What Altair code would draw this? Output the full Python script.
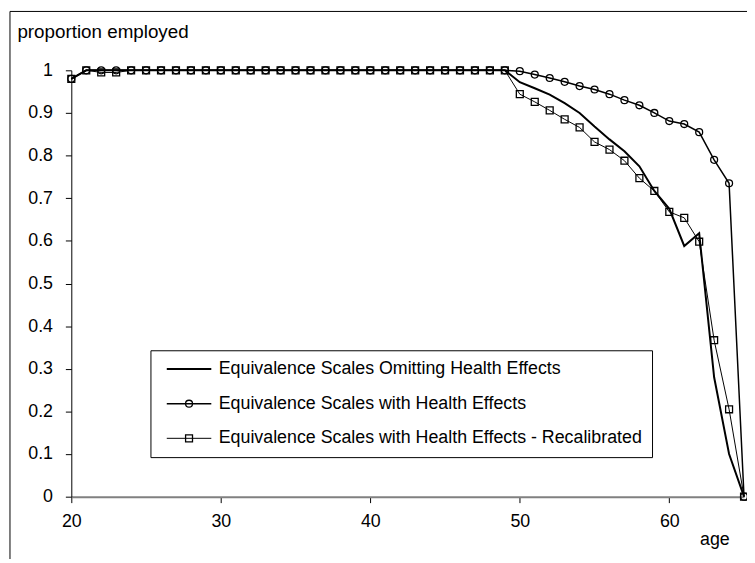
import altair as alt
import pandas as pd

ages = [20, 21, 22, 23, 24, 25, 26, 27, 28, 29, 30, 31, 32, 33, 34, 35,
        36, 37, 38, 39, 40, 41, 42, 43, 44, 45, 46, 47, 48, 49, 50, 51,
        52, 53, 54, 55, 56, 57, 58, 59, 60, 61, 62, 63, 64, 65]

series_names = [
    "Equivalence Scales Omitting Health Effects",
    "Equivalence Scales with Health Effects",
    "Equivalence Scales with Health Effects - Recalibrated",
]

omitting = [0.98, 1.0, 1.0, 1.0, 1.0, 1.0, 1.0, 1.0, 1.0, 1.0, 1.0, 1.0, 1.0, 1.0, 1.0, 1.0,
            1.0, 1.0, 1.0, 1.0, 1.0, 1.0, 1.0, 1.0, 1.0, 1.0, 1.0, 1.0, 1.0, 1.0,
            0.972, 0.958, 0.943, 0.923, 0.900, 0.868, 0.838, 0.810, 0.775, 0.717,
            0.675, 0.588, 0.618, 0.28, 0.10, 0.0]

with_health = [0.98, 1.0, 1.0, 1.0, 1.0, 1.0, 1.0, 1.0, 1.0, 1.0, 1.0, 1.0, 1.0, 1.0, 1.0, 1.0,
               1.0, 1.0, 1.0, 1.0, 1.0, 1.0, 1.0, 1.0, 1.0, 1.0, 1.0, 1.0, 1.0, 1.0,
               0.998, 0.990, 0.982, 0.973, 0.963, 0.955, 0.944, 0.930, 0.918, 0.900,
               0.881, 0.874, 0.855, 0.790, 0.735, 0.0]

recalibrated = [0.98, 1.0, 0.995, 0.995, 1.0, 1.0, 1.0, 1.0, 1.0, 1.0, 1.0, 1.0, 1.0, 1.0, 1.0, 1.0,
                1.0, 1.0, 1.0, 1.0, 1.0, 1.0, 1.0, 1.0, 1.0, 1.0, 1.0, 1.0, 1.0, 1.0,
                0.944, 0.926, 0.906, 0.885, 0.866, 0.832, 0.814, 0.788, 0.747, 0.717,
                0.668, 0.654, 0.598, 0.367, 0.205, 0.0]

x_ticks = [20, 30, 40, 50, 60]
y_ticks = [0, 0.1, 0.2, 0.3, 0.4, 0.5, 0.6, 0.7, 0.8, 0.9, 1]

rows = []
for name, vals in zip(series_names, [omitting, with_health, recalibrated]):
    for a, v in zip(ages, vals):
        rows.append({"age": a, "value": v, "series": name, "series_p": name})
df = pd.DataFrame(rows)

FONT = "Liberation Sans"
FS = 18
LEG_X = 80
LEG_Y = 283
ROW_PAD = 17
LABEL_OFF = 21

x_enc = alt.X("age:Q",
              scale=alt.Scale(domain=[20, 65], nice=False, zero=False),
              axis=alt.Axis(values=x_ticks, grid=False, title="age",
                            domainColor="#808080", domainWidth=2,
                            tickColor="black", tickSize=6, tickWidth=1,
                            labelPadding=10, labelFontSize=FS, labelColor="black",
                            labelFlush=False, labelOverlap=False,
                            titleFontSize=FS, titleFontWeight="normal", titleColor="black",
                            titleX=650, titleY=48, titleAlign="center",
                            titleBaseline="alphabetic"))
y_enc = alt.Y("value:Q",
              scale=alt.Scale(domain=[0, 1], nice=False),
              axis=alt.Axis(values=y_ticks, format="~g", grid=False,
                            title="proportion employed",
                            domainColor="black", domainWidth=1,
                            tickColor="black", tickSize=6, tickWidth=1,
                            labelPadding=13, labelFontSize=FS, labelColor="black",
                            labelFlush=False, labelOverlap=False,
                            titleFontSize=19, titleFontWeight="normal", titleColor="black",
                            titleAngle=0, titleAlign="left", titleBaseline="alphabetic",
                            titleX=-55, titleY=-33))

legend_a = alt.Legend(orient="none", legendX=LEG_X, legendY=LEG_Y, title=None,
                      symbolType="M-6.43,0H6.43", symbolSize=49, symbolOffset=20,
                      symbolStrokeColor="black",
                      labelOffset=LABEL_OFF, labelFontSize=FS, labelColor="black",
                      labelLimit=700, rowPadding=ROW_PAD, padding=10, strokeColor="black")

legend_b = alt.Legend(orient="none", legendX=LEG_X, legendY=LEG_Y, title=None,
                      symbolSize=49, symbolOffset=20, symbolStrokeWidth=1.3,
                      symbolStrokeColor="black", symbolFillColor="transparent",
                      labelOffset=LABEL_OFF, labelFontSize=FS, labelOpacity=0,
                      labelLimit=700, rowPadding=ROW_PAD, padding=10)

lines = alt.Chart(df).mark_line().encode(
    x=x_enc, y=y_enc,
    color=alt.Color("series:N", scale=alt.Scale(domain=series_names,
                                                range=["black", "black", "black"]),
                    legend=legend_a),
    strokeWidth=alt.StrokeWidth("series:N", scale=alt.Scale(domain=series_names,
                                                            range=[2, 1, 1]),
                                legend=legend_a),
)

points = alt.Chart(df).mark_point(filled=False, size=49, strokeWidth=1.3,
                                  color="black", opacity=1).encode(
    x=x_enc, y=y_enc,
    shape=alt.Shape("series_p:N", scale=alt.Scale(range=["M0,0", "circle", "square"]),
                    legend=legend_b),
)

frame_df = pd.DataFrame({"k": [0]})
frame_left = alt.Chart(frame_df).mark_rule(color="black", strokeWidth=1).encode(
    x=alt.value(-62), y=alt.value(-59.5), y2=alt.value(500))
frame_top = alt.Chart(frame_df).mark_rule(color="black", strokeWidth=1).encode(
    x=alt.value(-62), x2=alt.value(700), y=alt.value(-59.5))

chart = alt.layer(frame_left, frame_top, lines, points).properties(
    width=680, height=431,
    padding={"left": 64, "top": 60, "right": 3, "bottom": 60},
    autosize=alt.AutoSizeParams(type="none"),
).configure(font=FONT).configure_view(stroke=None)

chart.save("out.html", embed_options={"renderer": "svg", "actions": False})
